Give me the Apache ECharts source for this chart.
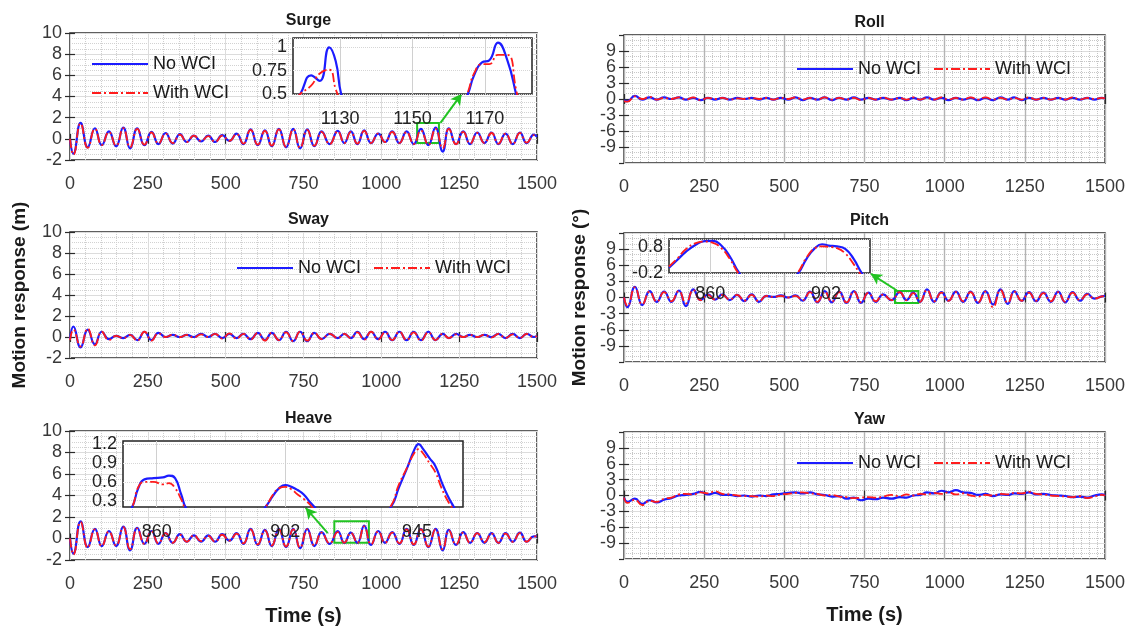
<!DOCTYPE html>
<html>
<head>
<meta charset="utf-8">
<script src="https://cdn.jsdelivr.net/npm/echarts@6/dist/echarts.min.js"></script>
<style>
  html, body { margin: 0; background: #fff; }
  #main { width: 1130px; height: 633px; }
</style>
</head>
<body>
<div id="main"></div>
<script>
// extrema times (s) shared by the wave-driven panels
var tWave = [0, 11, 34, 57, 80, 102, 125, 148, 171, 193,
  216, 239, 262, 284, 307, 330, 353, 375, 398, 421,
  444, 466, 489, 512, 535, 557, 580, 603, 626, 648,
  671, 694, 717, 739, 762, 785, 808, 834, 860, 881,
  902, 923, 945, 967, 990, 1012, 1035, 1058, 1081, 1104,
  1127, 1151, 1174, 1197, 1217, 1240, 1263, 1285, 1308, 1331,
  1354, 1376, 1399, 1422, 1445, 1467, 1490, 1500];

var surgeNo = [0, -1.4, 1.5, -0.8, 1.0, -0.6, 0.7, -0.7, 1.05, -0.9,
  1.0, -0.6, 0.65, -0.5, 0.55, -0.45, 0.45, -0.3, 0.3, -0.25,
  0.3, -0.3, 0.35, -0.2, 0.5, -0.5, 0.9, -0.6, 0.8, -0.7,
  0.95, -0.8, 0.95, -0.9, 0.9, -0.7, 0.7, -0.5, 0.75, -0.4,
  0.7, -0.5, 0.8, -0.4, 0.5, -0.3, 0.7, -0.4, 0.7, -0.5,
  0.95, -0.6, 1.05, -1.2, 1.0, -0.5, 0.7, -0.5, 0.6, -0.4,
  0.6, -0.5, 0.5, -0.5, 0.6, -0.4, 0.4, 0.2];
var surgeWith = [0, -1.5, 1.45, -0.85, 0.95, -0.6, 0.65, -0.65, 1.0, -0.8,
  0.95, -0.55, 0.6, -0.45, 0.5, -0.4, 0.4, -0.3, 0.3, -0.2,
  0.25, -0.3, 0.3, -0.2, 0.45, -0.45, 0.85, -0.55, 0.75, -0.65,
  0.9, -0.75, 0.9, -0.85, 0.85, -0.65, 0.65, -0.5, 0.7, -0.4,
  0.65, -0.45, 0.75, -0.4, 0.5, -0.3, 0.65, -0.4, 0.65, -0.5,
  0.78, -0.55, 0.95, -0.9, 0.95, -0.5, 0.65, -0.45, 0.55, -0.4,
  0.55, -0.45, 0.5, -0.5, 0.55, -0.35, 0.35, 0.2];

var swayNo = [-0.2, 1.0, -1.0, 0.7, -0.7, 0.5, -0.2, 0.1, -0.1, 0.2,
  -0.3, 0.5, -0.3, 0.4, 0.0, 0.2, 0.0, 0.2, 0.0, 0.3,
  0.0, 0.3, -0.1, 0.3, -0.1, 0.3, -0.2, 0.4, -0.3, 0.4,
  -0.3, 0.5, -0.4, 0.5, -0.4, 0.4, -0.2, 0.3, -0.1, 0.3,
  -0.1, 0.5, -0.2, 0.5, -0.2, 0.5, -0.3, 0.5, -0.3, 0.5,
  -0.3, 0.5, -0.3, 0.3, -0.1, 0.3, 0.0, 0.2, 0.0, 0.2,
  0.0, 0.3, -0.1, 0.3, -0.1, 0.3, 0.0, 0.1];
var swayWith = [-0.3, 0.7, -0.9, 0.8, -0.8, 0.5, -0.3, 0.1, -0.1, 0.2,
  -0.35, 0.5, -0.35, 0.35, 0.0, 0.2, 0.0, 0.2, -0.05, 0.25,
  0.0, 0.3, -0.15, 0.35, -0.15, 0.3, -0.25, 0.4, -0.35, 0.4,
  -0.3, 0.45, -0.4, 0.5, -0.35, 0.4, -0.2, 0.3, -0.1, 0.3,
  -0.1, 0.45, -0.25, 0.5, -0.25, 0.45, -0.3, 0.5, -0.3, 0.45,
  -0.35, 0.45, -0.3, 0.3, -0.1, 0.25, 0.0, 0.2, 0.0, 0.2,
  -0.05, 0.3, -0.1, 0.25, -0.1, 0.3, 0.0, 0.1];

var heaveNo = [0, -1.4, 1.6, -0.8, 0.9, -0.7, 0.7, -0.7, 1.1, -1.1,
  1.0, -0.5, 0.7, -0.5, 0.5, -0.4, 0.4, -0.3, 0.3, -0.3,
  0.3, -0.3, 0.4, -0.2, 0.5, -0.5, 0.9, -0.6, 0.8, -0.7,
  0.9, -0.8, 0.9, -0.9, 0.9, -0.7, 0.6, -0.5, 0.7, -0.4,
  0.55, -0.4, 1.2, -0.6, 0.7, -0.4, 0.6, -0.5, 0.9, -0.6,
  0.9, -0.8, 0.9, -1.1, 0.8, -0.6, 0.6, -0.4, 0.5, -0.4,
  0.5, -0.4, 0.5, -0.3, 0.55, -0.3, 0.2, 0.2];
var heaveWith = [0, -1.5, 1.55, -0.85, 0.85, -0.7, 0.65, -0.65, 1.05, -1.0,
  0.95, -0.5, 0.65, -0.45, 0.5, -0.4, 0.35, -0.3, 0.3, -0.25,
  0.25, -0.3, 0.35, -0.2, 0.45, -0.45, 0.85, -0.55, 0.75, -0.65,
  0.85, -0.75, 0.85, -0.85, 0.85, -0.65, 0.55, -0.45, 0.6, -0.4,
  0.52, -0.4, 1.12, -0.55, 0.65, -0.4, 0.55, -0.45, 0.85, -0.55,
  0.85, -0.75, 0.85, -1.0, 0.75, -0.55, 0.55, -0.4, 0.5, -0.35,
  0.45, -0.4, 0.45, -0.3, 0.5, -0.3, 0.2, 0.2];

var rollNo = [-0.3, -0.4, 0.6, -0.1, 0.3, -0.1, 0.3, 0.0, 0.3, -0.1,
  0.2, -0.2, 0.2, -0.1, 0.2, -0.1, 0.2, 0.0, 0.2, -0.1,
  0.2, -0.1, 0.2, -0.1, 0.3, -0.2, 0.2, -0.1, 0.3, -0.2,
  0.2, -0.1, 0.3, -0.1, 0.2, -0.1, 0.2, -0.1, 0.2, -0.2,
  0.2, -0.1, 0.3, -0.1, 0.2, -0.2, 0.2, -0.1, 0.2, -0.2,
  0.2, -0.2, 0.3, -0.1, 0.3, -0.2, 0.2, -0.1, 0.2, -0.1,
  0.2, -0.1, 0.2, -0.1, 0.2, -0.1, 0.2, 0.1];
var rollWith = [-0.4, -0.5, 0.5, 0.0, 0.4, -0.1, 0.2, 0.0, 0.3, -0.1,
  0.3, -0.2, 0.2, 0.0, 0.2, -0.1, 0.1, 0.0, 0.2, 0.0,
  0.2, -0.1, 0.2, 0.0, 0.3, -0.1, 0.2, -0.1, 0.3, -0.1,
  0.2, -0.1, 0.2, -0.2, 0.2, -0.1, 0.3, -0.1, 0.2, -0.1,
  0.3, -0.1, 0.2, -0.1, 0.3, -0.1, 0.2, -0.1, 0.3, -0.1,
  0.3, -0.1, 0.2, -0.1, 0.2, -0.1, 0.3, -0.1, 0.2, -0.1,
  0.2, -0.1, 0.3, -0.1, 0.2, 0.0, 0.2, 0.1];

var pitchNo = [0, -1.8, 2.0, -1.4, 1.2, -0.8, 1.1, -0.8, 1.3, -1.6,
  1.5, -0.5, 0.6, -0.4, 0.6, -0.5, 0.5, -0.7, 0.6, -0.8,
  0.3, 0.1, 0.4, 0.0, 0.4, -0.6, 1.1, -0.9, 1.2, -0.9,
  1.1, -1.0, 1.2, -1.0, 0.9, -0.8, 0.6, -0.5, 1.0, -0.5,
  0.9, -0.8, 1.5, -0.8, 1.0, -0.6, 1.1, -0.8, 1.1, -1.0,
  1.2, -1.3, 1.5, -1.2, 1.2, -0.6, 1.0, -0.7, 0.9, -0.8,
  1.1, -0.9, 1.0, -0.6, 0.7, -0.2, 0.2, 0.3];
var pitchWith = [0, -1.6, 1.9, -1.3, 1.1, -0.8, 1.0, -0.7, 1.2, -1.1,
  1.4, -0.5, 0.5, -0.4, 0.5, -0.4, 0.5, -0.6, 0.5, -0.7,
  0.3, 0.1, 0.3, 0.0, 0.3, -0.5, 1.0, -0.8, 1.1, -0.8,
  1.0, -0.9, 1.1, -0.9, 0.85, -0.7, 0.55, -0.5, 1.0, -0.5,
  0.82, -0.8, 1.4, -0.7, 0.9, -0.6, 1.0, -0.7, 1.0, -0.9,
  1.1, -1.8, 1.4, -1.0, 1.1, -0.6, 0.9, -0.6, 0.8, -0.7,
  1.0, -0.8, 0.9, -0.5, 0.6, -0.2, 0.2, 0.3];

var yawNo = [-0.4, -1.2, -0.6, -1.6, -0.9, -1.3, -0.8, -0.5, 0.0, 0.1,
  0.3, 0.7, 0.2, 0.5, 0.1, 0.1, -0.1, 0.0, -0.2, 0.0,
  -0.1, 0.2, 0.3, 0.5, 0.6, 0.4, 0.6, 0.2, 0.1, -0.2,
  -0.1, -0.6, -0.4, -0.9, -0.6, -0.7, -0.4, -0.6, -0.3, -0.4,
  0.0, 0.1, 0.6, 0.4, 0.9, 0.6, 1.0, 0.6, 0.5, 0.1,
  0.3, -0.1, 0.2, 0.1, 0.4, 0.3, 0.6, 0.2, 0.3, 0.1,
  0.0, -0.1, -0.3, -0.2, -0.4, 0.0, 0.2, 0.0];
var yawWith = [-0.4, -1.4, -0.8, -1.8, -1.0, -1.2, -0.6, -0.4, 0.2, 0.3,
  0.2, 0.6, 0.4, 0.8, 0.3, 0.2, 0.0, -0.1, -0.1, -0.2,
  0.0, -0.1, 0.2, 0.3, 0.5, 0.6, 0.4, 0.3, 0.0, 0.1,
  -0.2, -0.3, -0.5, -0.4, -0.3, -0.4, -0.2, 0.1, -0.1, 0.2,
  0.0, 0.3, 0.2, 0.5, 0.3, 0.6, 0.2, 0.4, 0.0, -0.2,
  0.1, 0.0, 0.3, 0.2, 0.5, 0.4, 0.7, 0.3, 0.2, 0.0,
  -0.1, -0.2, -0.3, -0.1, -0.5, -0.2, 0.1, 0.0];

// zoomed windows (insets)
var surgeZoomT = [1115, 1117, 1119, 1122, 1124.4, 1127, 1128.8, 1130.3, 1133, 1141, 1150,
  1158, 1163, 1165.3, 1167, 1169.2, 1171.2, 1173.6, 1176.2, 1178.6, 1181, 1185];
var surgeZoomNo = [0.3, 0.4, 0.5, 0.7, 0.64, 1.0, 0.85, 0.5, 0.2, -0.4, -0.6,
  -0.2, 0.3, 0.5, 0.7, 0.84, 0.86, 1.05, 0.86, 0.5, 0.1, -0.4];
var surgeZoomWith = [0.3, 0.4, 0.5, 0.59, 0.72, 0.76, 0.55, 0.4, 0.15, -0.4, -0.55,
  -0.2, 0.3, 0.52, 0.72, 0.82, 0.82, 0.92, 0.92, 0.55, 0.1, -0.35];
var surgeZoomTicks = [1130, 1150, 1170];

var pitchZoomT = [845, 848, 851, 855, 858, 861, 864, 867, 870.5, 874, 882,
  889, 892, 895, 898, 900.6, 903, 906, 909, 912, 915, 918];
var pitchZoomNo = [0.0, 0.3, 0.6, 0.9, 1.02, 1.03, 0.85, 0.45, -0.2, -0.6, -1.0,
  -0.5, -0.2, 0.35, 0.75, 0.9, 0.85, 0.82, 0.72, 0.35, -0.2, -0.6];
var pitchZoomWith = [0.05, 0.35, 0.7, 0.95, 1.0, 0.95, 0.75, 0.35, -0.25, -0.6, -1.0,
  -0.5, -0.15, 0.4, 0.75, 0.82, 0.8, 0.75, 0.55, 0.15, -0.3, -0.6];
var pitchZoomTicks = [860, 902];

var heaveZoomT = [849, 852, 854, 856, 859, 862, 864, 866, 868, 870, 880, 890,
  895.5, 898, 900, 902, 904, 906, 908, 910, 911.5, 915, 923, 932,
  936.5, 939, 942, 944, 945.5, 947, 949, 951, 953, 955, 957, 960];
var heaveZoomNo = [0.0, 0.2, 0.5, 0.64, 0.66, 0.67, 0.70, 0.66, 0.4, 0.15, -0.4, -0.1,
  0.2, 0.38, 0.5, 0.55, 0.52, 0.47, 0.4, 0.28, 0.2, 0.0, -0.4, 0.0,
  0.2, 0.5, 0.85, 1.1, 1.2, 1.12, 0.98, 0.85, 0.6, 0.38, 0.2, -0.05];
var heaveZoomWith = [0.0, 0.2, 0.52, 0.6, 0.6, 0.56, 0.58, 0.5, 0.32, 0.12, -0.4, -0.1,
  0.2, 0.4, 0.5, 0.52, 0.48, 0.4, 0.33, 0.24, 0.15, -0.02, -0.4, 0.0,
  0.22, 0.55, 0.85, 1.05, 1.12, 1.05, 0.9, 0.75, 0.5, 0.3, 0.15, -0.1];
var heaveZoomTicks = [860, 902, 945];
var heaveZoomYTicks = [0.3, 0.6, 0.9, 1.2];

var FONT = 'Liberation Sans, Arial, sans-serif';
var BLUE = '#1c1cff';
var RED = '#ff1c1c';
var GREEN = '#22c322';
var DASHDOT = [9, 3, 2, 3];

function pairs(t, v) {
  return t.map(function (x, i) { return [x, v[i]]; });
}
function plain(v) { return String(v); } // no thousands separator

// main panels
var panels = [
  { title: 'Surge', box: [70, 33, 467, 127], left: true, no: surgeNo, wi: surgeWith },
  { title: 'Sway', box: [70, 232, 467, 126], left: true, no: swayNo, wi: swayWith },
  { title: 'Heave', box: [70, 431, 467, 129], left: true, no: heaveNo, wi: heaveWith },
  { title: 'Roll', box: [624, 35, 481, 128], left: false, no: rollNo, wi: rollWith },
  { title: 'Pitch', box: [624, 233, 481, 129], left: false, no: pitchNo, wi: pitchWith },
  { title: 'Yaw', box: [624, 432, 481, 127], left: false, no: yawNo, wi: yawWith }
];

var grids = [], xAxes = [], yAxes = [], series = [], titles = [];
var tickStyle = { inside: true, length: 5, lineStyle: { color: '#2b2b2b', width: 1.2 } };

panels.forEach(function (p, i) {
  grids.push({
    left: p.box[0], top: p.box[1], width: p.box[2], height: p.box[3],
    show: true, borderColor: '#2b2b2b', borderWidth: 1.5, backgroundColor: 'transparent'
  });
  titles.push({
    text: p.title, left: p.box[0] + p.box[2] / 2, top: p.box[1] - 25, textAlign: 'center',
    textStyle: { fontFamily: FONT, fontSize: 16, fontWeight: 'bold', color: '#1a1a1a' }
  });
  xAxes.push({
    type: 'value', gridIndex: i, min: 0, max: 1500, interval: 250,
    axisLine: { show: false },
    axisTick: tickStyle,
    axisLabel: { fontFamily: FONT, fontSize: 18, color: '#383838', margin: 15, formatter: plain },
    splitLine: { show: true, lineStyle: { color: p.left ? '#dcdcdc' : '#b4b4b4', width: p.left ? 1 : 1.4 } },
    minorTick: { show: false, splitNumber: p.left ? 5 : 10 },
    minorSplitLine: { show: true, lineStyle: { color: p.left ? '#cfcfcf' : '#c4c4c4', type: 'dotted' } }
  });
  var y = {
    type: 'value', gridIndex: i,
    axisLine: { show: false },
    axisTick: tickStyle,
    axisLabel: { fontFamily: FONT, fontSize: 18, color: '#383838', margin: 8 },
    splitLine: { show: true, lineStyle: { color: '#dcdcdc' } },
    minorTick: { show: false, splitNumber: p.left ? 4 : 3 },
    minorSplitLine: { show: true, lineStyle: { color: p.left ? '#d2d2d2' : '#c8c8c8', type: 'dotted' } }
  };
  if (p.left) {
    y.min = -2; y.max = 10; y.interval = 2;
  } else {
    y.min = -12; y.max = 12; y.interval = 3;
    y.axisLabel.showMinLabel = false;
    y.axisLabel.showMaxLabel = false;
  }
  yAxes.push(y);
  series.push({
    name: 'No WCI', type: 'line', xAxisIndex: i, yAxisIndex: i,
    data: pairs(tWave, p.no), smooth: true, symbol: 'none', silent: true,
    lineStyle: { color: BLUE, width: 2.2 }, itemStyle: { color: BLUE }
  });
  series.push({
    name: 'With WCI', type: 'line', xAxisIndex: i, yAxisIndex: i,
    data: pairs(tWave, p.wi), smooth: true, symbol: 'none', silent: true,
    lineStyle: { color: RED, width: 1.8, type: DASHDOT }, itemStyle: { color: RED }
  });
});

// shared axis names
yAxes[1].name = 'Motion response (m)';
yAxes[1].nameLocation = 'middle';
yAxes[1].nameGap = 41;
yAxes[1].nameTextStyle = { fontFamily: FONT, fontSize: 19, fontWeight: 'bold', color: '#1a1a1a' };
yAxes[4].name = 'Motion response (°)';
yAxes[4].nameLocation = 'middle';
yAxes[4].nameGap = 35;
yAxes[4].nameTextStyle = { fontFamily: FONT, fontSize: 19, fontWeight: 'bold', color: '#1a1a1a' };
[2, 5].forEach(function (k) {
  xAxes[k].name = 'Time (s)';
  xAxes[k].nameLocation = 'middle';
  xAxes[k].nameGap = 46;
  xAxes[k].nameTextStyle = { fontFamily: FONT, fontSize: 20, fontWeight: 'bold', color: '#1a1a1a' };
});

// zoom box + arrow on the main plots
function addZoomMark(seriesIdx, box, arrow) {
  var s = series[seriesIdx];
  s.markArea = {
    silent: true,
    itemStyle: { color: 'rgba(0,0,0,0)', borderColor: GREEN, borderWidth: 2 },
    label: { show: false },
    data: [[{ coord: [box[0], box[2]] }, { coord: [box[1], box[3]] }]]
  };
  s.markLine = {
    silent: true, symbol: ['none', 'arrow'], symbolSize: [9, 11],
    label: { show: false },
    lineStyle: { color: GREEN, width: 2, type: 'solid' },
    data: [[{ coord: arrow[0] }, { coord: arrow[1] }]]
  };
}
addZoomMark(0, [1115, 1185, -0.4, 1.5], [[1190, 1.5], [1258, 4.25]]);
addZoomMark(8, [845, 918, -1.0, 1.2], [[851, 1.3], [770, 4.4]]);
addZoomMark(4, [849, 960, -0.4, 1.6], [[828, 0.5], [757, 2.85]]);

// insets
var insets = [
  { box: [293, 38, 239, 56], x: [1117, 1183], y: [0.5, 1.1], yInt: 0.25, xt: surgeZoomTicks,
    t: surgeZoomT, no: surgeZoomNo, wi: surgeZoomWith, lm: 16 },
  { box: [669, 239, 201, 34], x: [845, 918], y: [-0.2, 1.1], yInt: 1, xt: pitchZoomTicks,
    t: pitchZoomT, no: pitchZoomNo, wi: pitchZoomWith, lm: 12 },
  { box: [123, 441, 340, 66], x: [849, 960], y: [0.2, 1.25], yt: heaveZoomYTicks, xt: heaveZoomTicks,
    t: heaveZoomT, no: heaveZoomNo, wi: heaveZoomWith, lm: 16 }
];

insets.forEach(function (p) {
  var gi = grids.length;
  grids.push({
    left: p.box[0], top: p.box[1], width: p.box[2], height: p.box[3], z: 10,
    show: true, borderColor: '#222', borderWidth: 1.5, backgroundColor: '#fff'
  });
  xAxes.push({
    type: 'value', gridIndex: gi, min: p.x[0], max: p.x[1], z: 11,
    axisLine: { show: false },
    axisTick: { show: false, customValues: p.xt },
    axisLabel: { customValues: p.xt, fontFamily: FONT, fontSize: 18, color: '#222', margin: p.lm, formatter: plain },
    splitLine: { show: true, lineStyle: { color: '#d0d0d0' } }
  });
  var y = {
    type: 'value', gridIndex: gi, min: p.y[0], max: p.y[1], z: 11,
    axisLine: { show: false },
    axisTick: { show: false },
    axisLabel: { fontFamily: FONT, fontSize: 18, color: '#222', margin: 6 },
    splitLine: { show: true, lineStyle: { color: '#d6d6d6', type: 'dotted' } }
  };
  if (p.yt) {
    y.axisLabel.customValues = p.yt;
    y.axisTick.customValues = p.yt;
  } else {
    y.interval = p.yInt;
  }
  yAxes.push(y);
  series.push({
    name: 'No WCI', type: 'line', xAxisIndex: gi, yAxisIndex: gi, z: 12,
    data: pairs(p.t, p.no), smooth: true, symbol: 'none', silent: true,
    lineStyle: { color: BLUE, width: 2.2 }, itemStyle: { color: BLUE }
  });
  series.push({
    name: 'With WCI', type: 'line', xAxisIndex: gi, yAxisIndex: gi, z: 12,
    data: pairs(p.t, p.wi), smooth: true, symbol: 'none', silent: true,
    lineStyle: { color: RED, width: 1.8, type: DASHDOT }, itemStyle: { color: RED }
  });
});

// mirrored inward ticks on top and right edges of the main boxes (MATLAB box on)
panels.forEach(function (p, i) {
  xAxes.push({
    type: 'value', gridIndex: i, position: 'top', min: 0, max: 1500, interval: 250,
    axisLine: { show: false }, axisTick: tickStyle,
    axisLabel: { show: false }, splitLine: { show: false }
  });
  yAxes.push({
    type: 'value', gridIndex: i, position: 'right',
    min: yAxes[i].min, max: yAxes[i].max, interval: yAxes[i].interval,
    axisLine: { show: false }, axisTick: tickStyle,
    axisLabel: { show: false }, splitLine: { show: false }
  });
});

function legendAt(left, top, vertical) {
  return {
    data: ['No WCI', 'With WCI'], left: left, top: top,
    orient: vertical ? 'vertical' : 'horizontal',
    itemWidth: 56, itemHeight: 14, itemGap: vertical ? 11 : 12,
    selectedMode: false, padding: 0,
    itemStyle: { opacity: 0 },
    textStyle: { fontFamily: FONT, fontSize: 18, color: '#1a1a1a' }
  };
}

var option = {
  animation: false,
  backgroundColor: '#fff',
  title: titles,
  legend: [
    legendAt(91, 55, true),
    legendAt(236, 259, false),
    legendAt(796, 60, false),
    legendAt(796, 454, false)
  ],
  grid: grids,
  xAxis: xAxes,
  yAxis: yAxes,
  series: series
};

var chart = echarts.init(document.getElementById('main'));
chart.setOption(option);
</script>
</body>
</html>
